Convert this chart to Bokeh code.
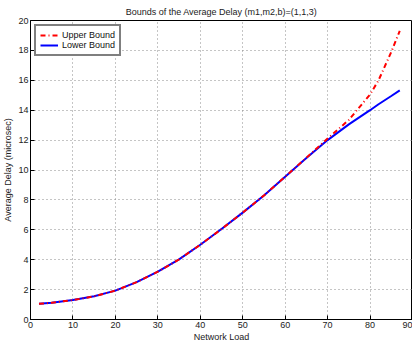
from bokeh.plotting import figure
from bokeh.models import Legend, LegendItem, FixedTicker, Range1d
from bokeh.embed import file_html
from bokeh.resources import INLINE

load = [2, 5, 10, 15, 20, 25, 30, 35, 40, 45, 50, 55, 60, 65, 70, 75, 80, 82, 85, 87]
lower = [1.05, 1.12, 1.30, 1.55, 1.93, 2.50, 3.20, 4.02, 5.00, 6.05, 7.15, 8.30, 9.55, 10.80, 12.00, 13.05, 14.00, 14.40, 14.95, 15.33]
upper = [1.05, 1.12, 1.30, 1.55, 1.93, 2.50, 3.20, 4.02, 5.00, 6.05, 7.15, 8.30, 9.55, 10.82, 12.10, 13.35, 15.05, 16.00, 17.90, 19.30]
x_ticks = [0, 10, 20, 30, 40, 50, 60, 70, 80, 90]
y_ticks = [0, 2, 4, 6, 8, 10, 12, 14, 16, 18, 20]

FONT = "Liberation Sans"

p = figure(width=412, height=344, output_backend="svg", toolbar_location=None,
           x_range=Range1d(0, 90), y_range=Range1d(0, 20),
           title="Bounds of the Average Delay (m1,m2,b)=(1,1,3)",
           min_border_left=0, min_border_right=0, min_border_top=0, min_border_bottom=0)

p.title.align = "center"
p.title.text_font = FONT
p.title.text_font_size = "9px"
p.title.text_font_style = "normal"
p.title.text_color = "#222222"
p.title.standoff = 8
p.title.offset = 0

p.outline_line_color = "black"
p.outline_line_width = 1

for ax in (p.xaxis, p.yaxis):
    ax.major_label_text_font = FONT
    ax.major_label_text_font_size = "9px"
    ax.major_label_text_color = "#222222"
    ax.axis_label_text_font = FONT
    ax.axis_label_text_font_size = "9px"
    ax.axis_label_text_font_style = "normal"
    ax.axis_label_text_color = "#222222"
    ax.major_tick_in = 4
    ax.major_tick_out = 0
    ax.minor_tick_in = 0
    ax.minor_tick_out = 0
    ax.axis_line_color = "black"
    ax.major_tick_line_color = "black"
    ax.major_label_standoff = 2
    ax.axis_label_standoff = 1
p.yaxis.axis_label_standoff = 2

p.xaxis.ticker = FixedTicker(ticks=x_ticks)
p.yaxis.ticker = FixedTicker(ticks=y_ticks)
p.xaxis.axis_label = "Network Load"
p.yaxis.axis_label = "Average Delay (microsec)"

p.xgrid.ticker = FixedTicker(ticks=x_ticks)
p.ygrid.ticker = FixedTicker(ticks=y_ticks)
for g in (p.xgrid, p.ygrid):
    g.grid_line_color = "#8a8a8a"
    g.grid_line_dash = "1 3"
    g.grid_line_width = 1

r_low = p.line(load, lower, line_color="#0000ff", line_width=2)
r_up = p.line(load, upper, line_color="#ff0000", line_width=2, line_dash="5 3 1 3")

legend = Legend(items=[LegendItem(label="Upper Bound", renderers=[r_up]),
                       LegendItem(label="Lower Bound", renderers=[r_low])],
                location="top_left")
legend.label_text_font = FONT
legend.label_text_font_size = "9px"
legend.label_text_color = "#111111"
legend.border_line_color = "black"
legend.border_line_width = 2
legend.margin = 4
legend.padding = 4
legend.spacing = 0
legend.glyph_height = 10
legend.glyph_width = 18
legend.label_height = 10
legend.label_standoff = 4
legend.background_fill_color = "white"
legend.background_fill_alpha = 1
p.add_layout(legend)

open("out.html", "w").write(file_html(p, INLINE))
